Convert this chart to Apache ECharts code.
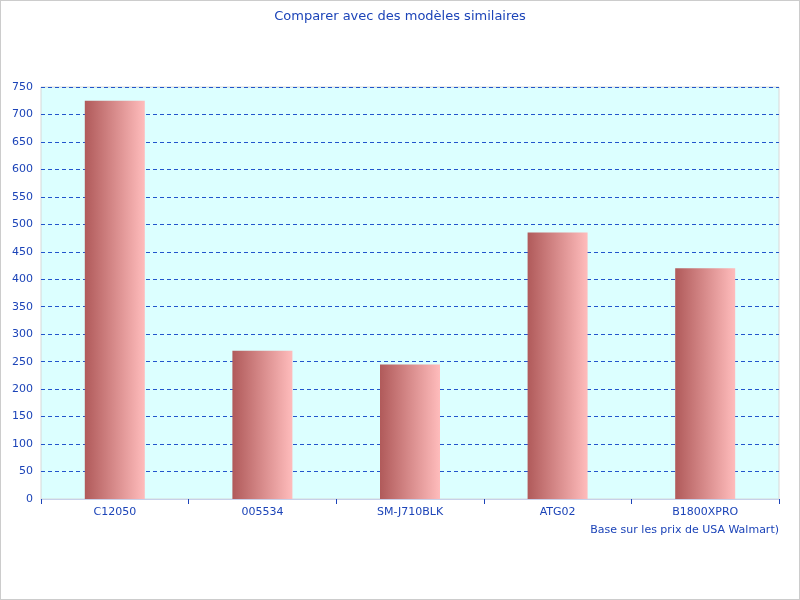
<!DOCTYPE html>
<html><head><meta charset="utf-8">
<script src="https://cdn.jsdelivr.net/npm/echarts@6/dist/echarts.min.js"></script>
<style>html,body{margin:0;padding:0}#c{width:800px;height:600px;box-sizing:border-box;border:1px solid #ccc}</style>
</head><body><div id="c"></div>
<script>
const categories = ['C12050','005534','SM-J710BLK','ATG02','B1800XPRO'];
const values = [725, 270, 245, 485, 420];
const chart = echarts.init(document.getElementById('c'));
const blue = '#1c44b8';
chart.setOption({
  animation:false,
  title:{text:'Comparer avec des modèles similaires',left:'center',top:4,textStyle:{color:blue,fontSize:13,fontWeight:'normal',fontFamily:'DejaVu Sans'}},
  grid:{left:40,right:20,top:86,bottom:100,show:true,backgroundColor:'#dcffff',borderColor:'#d8d8d8',borderWidth:1},
  xAxis:{type:'category',data:categories,name:'Base sur les prix de USA Walmart)',nameLocation:'end',nameGap:0,
    nameTextStyle:{color:blue,fontSize:11,fontFamily:'DejaVu Sans',align:'right',verticalAlign:'top',padding:[26,0,0,0]},
    axisLine:{lineStyle:{color:'#c8d0e8'}},axisTick:{show:true,length:5,lineStyle:{color:blue}},
    axisLabel:{color:blue,fontSize:11,fontFamily:'DejaVu Sans',margin:8}},
  yAxis:{type:'value',min:0,max:750,interval:50,
    axisLabel:{color:blue,fontSize:11,fontFamily:'DejaVu Sans',margin:8},
    axisLine:{show:false},axisTick:{show:false},
    splitLine:{lineStyle:{color:'#2255cc',type:[4,3],width:1}}},
  series:[{type:'bar',data:values,barWidth:60,
    itemStyle:{color:new echarts.graphic.LinearGradient(0,0,1,0,[{offset:0,color:'#b05a5a'},{offset:1,color:'#ffbcbc'}])}}]
});
</script></body></html>
